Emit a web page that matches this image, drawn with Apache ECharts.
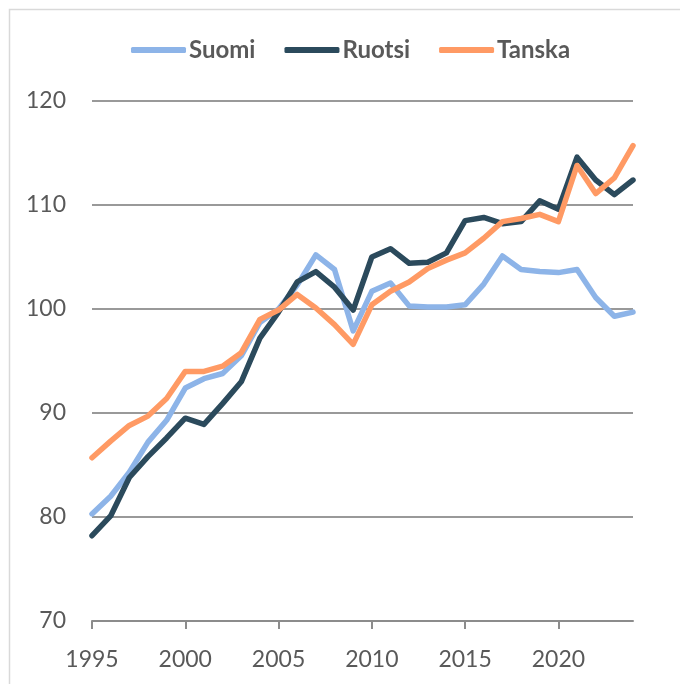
<!DOCTYPE html>
<html>
<head>
<meta charset="utf-8">
<script src="https://cdn.jsdelivr.net/npm/echarts@6/dist/echarts.min.js"></script>
<style>
html,body{margin:0;padding:0;background:#fff;}
#c{width:680px;height:684px;}
</style>
</head>
<body>
<div id="c"></div>
<script>
var years = [];
for (var y = 1995; y <= 2024; y++) years.push(String(y));

var suomi = [80.3, 82.0, 84.3, 87.2, 89.3, 92.4, 93.3, 93.8, 95.5, 98.7,
             100.0, 102.3, 105.2, 103.8, 97.9, 101.7, 102.5, 100.3, 100.2, 100.2,
             100.4, 102.4, 105.1, 103.8, 103.6, 103.5, 103.8, 101.1, 99.3, 99.7];
var ruotsi = [78.2, 80.1, 83.8, 85.8, 87.6, 89.5, 88.9, 90.9, 93.0, 97.2,
              99.7, 102.6, 103.6, 102.1, 99.9, 105.0, 105.8, 104.4, 104.5, 105.4,
              108.5, 108.8, 108.2, 108.4, 110.4, 109.6, 114.6, 112.4, 111.0, 112.4];
var tanska = [85.7, 87.3, 88.8, 89.7, 91.4, 94.0, 94.0, 94.5, 95.8, 99.0,
              99.9, 101.4, 100.1, 98.5, 96.6, 100.4, 101.7, 102.6, 103.9, 104.7,
              105.4, 106.8, 108.4, 108.7, 109.1, 108.4, 113.8, 111.1, 112.6, 115.7];

var seriesNames = ['Suomi', 'Ruotsi', 'Tanska'];
var seriesData = [suomi, ruotsi, tanska];
var colors = ['#8db4e8', '#2b4a5c', '#ff9a64'];

var chart = echarts.init(document.getElementById('c'));
chart.setOption({
  animation: false,
  backgroundColor: '#fff',
  graphic: [{
    type: 'rect',
    shape: {x: 9.5, y: 9.5, width: 720, height: 720},
    style: {fill: 'none', stroke: '#d9d9d9', lineWidth: 1.5},
    silent: true
  }],
  legend: {
    top: 33,
    left: 126,
    itemWidth: 55,
    itemHeight: 6,
    itemGap: 29,
    icon: 'roundRect',
    textStyle: {fontFamily: 'Lato', fontWeight: 'bold', fontSize: 24, color: '#595959', padding: [0, 0, 0, -2]},
    data: seriesNames
  },
  grid: {left: 92, right: 47, top: 101, bottom: 63, containLabel: false},
  xAxis: {
    type: 'category',
    data: years,
    boundaryGap: false,
    axisLine: {lineStyle: {color: '#8c8c8c', width: 2}},
    axisTick: {show: true, interval: 4, length: 8, lineStyle: {color: '#8c8c8c', width: 2}},
    axisLabel: {interval: 4, fontFamily: 'Lato', fontSize: 23, color: '#595959', margin: 27},
    splitLine: {show: false}
  },
  yAxis: {
    type: 'value',
    min: 70, max: 120, interval: 10,
    axisLine: {show: false},
    axisTick: {show: false},
    axisLabel: {fontFamily: 'Lato', fontSize: 23, color: '#595959', margin: 26},
    splitLine: {lineStyle: {color: '#999999', width: 2}}
  },
  series: seriesNames.map(function (n, i) {
    return {
      name: n,
      type: 'line',
      data: seriesData[i],
      symbol: 'none',
      smooth: false,
      lineStyle: {color: colors[i], width: 5.5, cap: 'round', join: 'round'},
      itemStyle: {color: colors[i]}
    };
  })
});
</script>
</body>
</html>
